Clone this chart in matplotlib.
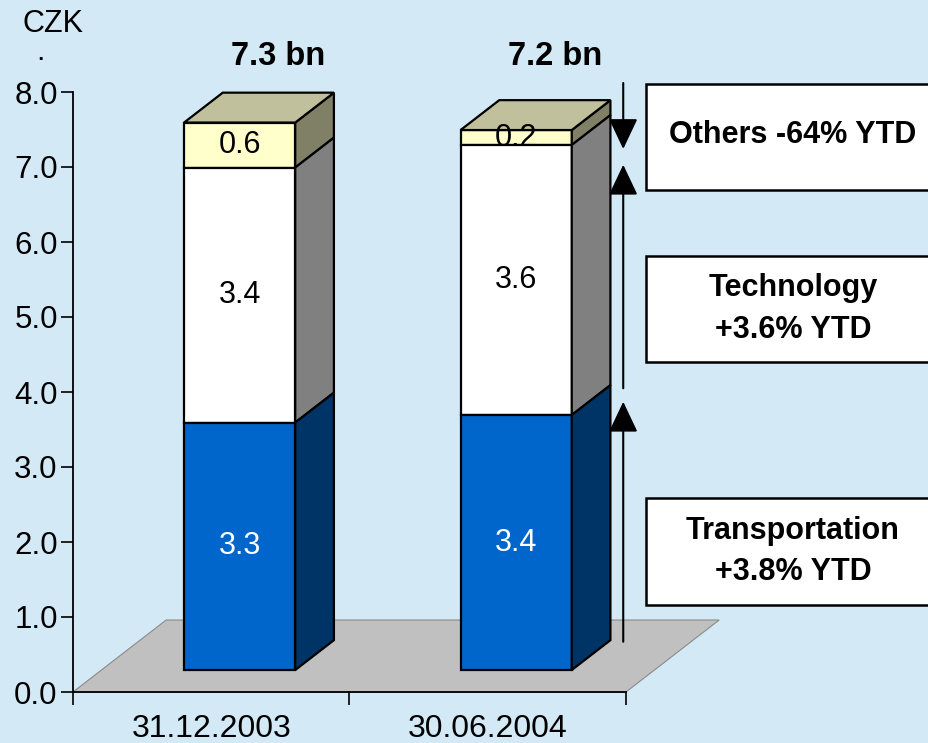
import matplotlib
matplotlib.use("Agg")
import matplotlib.pyplot as plt
from matplotlib.patches import Polygon, Rectangle

plt.rcParams['font.family'] = ['Liberation Sans', 'DejaVu Sans']

# revenue split, CZK bn
dates = ['31.12.2003', '30.06.2004']
transportation = [3.3, 3.4]
technology = [3.4, 3.6]
others = [0.6, 0.2]
totals = ['7.3 bn', '7.2 bn']

segment_names = ['Transportation', 'Technology', 'Others']
front_colors = ['#0066CC', '#FFFFFF', '#FFFFCC']
side_colors = ['#003366', '#808080', '#808066']
top_color = '#C0C09C'
bg = '#D3EAF6'

# fake 3D: depth z in [0, 1] shifts points right/up
DX, DY = 0.337, 0.96
Z0, Z1 = 0.305, 0.72
BAR_W = 0.402


def proj(x, y, z):
    return (x + z * DX, y + z * DY)


fig = plt.figure(figsize=(9.29, 7.43), dpi=100)
fig.patch.set_facecolor(bg)
W, H = 929, 743


def fx(px):
    return px / W


def fy(py):
    return 1 - py / H


ax = fig.add_axes([fx(73), fy(692), (626 - 73) / W, (692 - 92) / H])
ax.set_facecolor('none')
ax.set_xlim(0, 2)
ax.set_ylim(0, 8)

# floor
floor = Polygon([proj(0, 0, 0), proj(2, 0, 0), proj(2, 0, 1), proj(0, 0, 1)],
                closed=True, facecolor='#C0C0C0', edgecolor='#8A8A8A', lw=0.8,
                zorder=1, clip_on=False)
ax.add_patch(floor)

for i in range(len(dates)):
    vals = [transportation[i], technology[i], others[i]]
    xl = i + 0.5 - BAR_W / 2
    xr = i + 0.5 + BAR_W / 2
    bottom = 0.0
    for k, v in enumerate(vals):
        top = bottom + v
        z = 10 - 2 * k
        front = Polygon([proj(xl, bottom, Z0), proj(xr, bottom, Z0),
                         proj(xr, top, Z0), proj(xl, top, Z0)],
                        facecolor=front_colors[k], edgecolor='black', lw=1.6,
                        joinstyle='miter', zorder=z, clip_on=False)
        side = Polygon([proj(xr, bottom, Z0), proj(xr, bottom, Z1),
                        proj(xr, top, Z1), proj(xr, top, Z0)],
                       facecolor=side_colors[k], edgecolor='black', lw=1.6,
                       joinstyle='miter', zorder=z, clip_on=False)
        ax.add_patch(front)
        ax.add_patch(side)
        cx, cy = proj(i + 0.5, bottom + v / 2, Z0)
        ax.text(cx, cy, f'{v:.1f}', ha='center', va='center', fontsize=22,
                color='white' if k == 0 else 'black', zorder=z + 1)
        bottom = top
    lid = Polygon([proj(xl, bottom, Z0), proj(xr, bottom, Z0),
                   proj(xr, bottom, Z1), proj(xl, bottom, Z1)],
                  facecolor=top_color, edgecolor='black', lw=1.6,
                  joinstyle='miter', zorder=6, clip_on=False)
    ax.add_patch(lid)
    tx, _ = proj(i + 0.5, 0, Z1)
    ax.text(tx, 8.47, totals[i], ha='center', va='center', fontsize=23.5,
            fontweight='bold', clip_on=False)

# axes styling
for s in ['top', 'right']:
    ax.spines[s].set_visible(False)
ax.spines['left'].set_linewidth(1.3)
ax.spines['bottom'].set_linewidth(1.3)
ax.spines['left'].set_zorder(20)
ax.spines['bottom'].set_zorder(20)
ax.set_yticks(range(0, 9))
ax.set_yticklabels([f'{v:.1f}' for v in range(0, 9)], fontsize=22.5)
ax.tick_params(axis='y', length=9, width=1.2, pad=2)
ax.set_xticks([0, 1, 2])
ax.set_xticklabels([])
ax.tick_params(axis='x', which='major', length=9, width=1.2)
ax.set_xticks([0.5, 1.5], minor=True)
ax.set_xticklabels(dates, minor=True, fontsize=23)
ax.tick_params(axis='x', which='minor', length=0, pad=16)

fig.text(fx(53), fy(24), 'CZK', ha='center', va='center', fontsize=22)
fig.text(fx(40), fy(52), '.', ha='center', va='center', fontsize=22)

# arrows beside the second bar
arrow_x = 1.99
arrow_spans = [(8.12, 7.24), (4.05, 7.03), (0.67, 3.87)]
for tail, tip in arrow_spans:
    ax.annotate('', xy=(arrow_x, tip), xytext=(arrow_x, tail),
                arrowprops=dict(arrowstyle='-|>,head_length=0.95,head_width=0.45',
                                mutation_scale=20, lw=1.5, color='black',
                                shrinkA=0, shrinkB=0),
                annotation_clip=False, zorder=15)

# growth boxes
boxes = [(84, 190, ['Others -64% YTD']),
         (256, 362, ['Technology', '+3.6% YTD']),
         (498, 605, ['Transportation', '+3.8% YTD'])]
for top_px, bot_px, lines in boxes:
    fig.patches.append(Rectangle((fx(646), fy(bot_px)), fx(320), (bot_px - top_px) / H,
                                 transform=fig.transFigure, facecolor='white',
                                 edgecolor='black', lw=1.8))
    if len(lines) == 1:
        fig.text(fx(793), fy(135), lines[0], ha='center', va='center',
                 fontsize=22, fontweight='bold')
    else:
        ymid = (top_px + bot_px) / 2
        fig.text(fx(793), fy(ymid - 21), lines[0], ha='center', va='center',
                 fontsize=22, fontweight='bold')
        fig.text(fx(793), fy(ymid + 21), lines[1], ha='center', va='center',
                 fontsize=22, fontweight='bold')

fig.savefig('out.png', dpi=100, facecolor=bg)
